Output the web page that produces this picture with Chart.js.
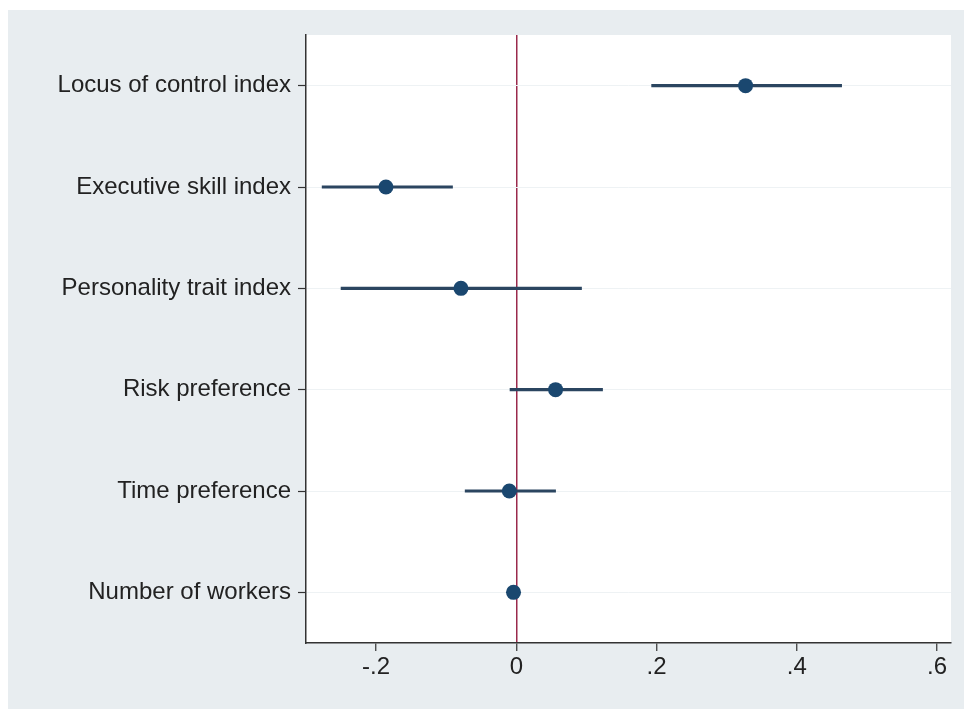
<!DOCTYPE html>
<html>
<head>
<meta charset="utf-8">
<script src="https://cdn.jsdelivr.net/npm/chart.js@4.4.1/dist/chart.umd.min.js"></script>
<style>
  html, body { margin: 0; padding: 0; background: #ffffff; }
  #wrap {
    position: absolute; left: 8px; top: 10px;
    width: 956px; height: 699px;
    background: #e8edf0;
  }
</style>
</head>
<body>
<div id="wrap"><canvas id="coefChart"></canvas></div>
<script>
// coefficient estimates with 95% intervals
const categories = [
  'Locus of control index',
  'Executive skill index',
  'Personality trait index',
  'Risk preference',
  'Time preference',
  'Number of workers'
];
const estimates = [0.327, -0.186, -0.079, 0.056, -0.010, -0.004];
const ciLow  = [0.193, -0.277, -0.250, -0.009, -0.073, -0.009];
const ciHigh = [0.464, -0.091, 0.093, 0.123, 0.056, 0.001];
const xTickValues = [-0.2, 0, 0.2, 0.4, 0.6];
const xTickLabels = ['-.2', '0', '.2', '.4', '.6'];

const navy = '#1a476f';
const zeroLine = '#9a2a4c';
const axisColor = '#333333';

Chart.defaults.font.family = "'Liberation Sans', Arial, sans-serif";
Chart.defaults.font.size = 24;
Chart.defaults.color = '#222222';

document.addEventListener("DOMContentLoaded", function () {
    const ctx = document.getElementById('coefChart');

    // white plot region behind the marks
    const plotBg = {
        id: 'plotBg',
        beforeDraw(chart) {
            const a = chart.chartArea;
            const c = chart.ctx;
            c.save();
            c.fillStyle = '#ffffff';
            c.fillRect(a.left, a.top, a.right - a.left, a.bottom - a.top);
            c.restore();
        }
    };

    new Chart(ctx, {
        type: 'bar',
        data: {
            labels: categories,
            datasets: [{
                type: 'bar',
                data: categories.map((c, i) => [ciLow[i], ciHigh[i]]),
                backgroundColor: '#2b4560',
                barThickness: 2.5,
                borderWidth: 0,
                order: 2
            }, {
                type: 'scatter',
                data: categories.map((c, i) => ({ x: estimates[i], y: c })),
                pointRadius: 7.5,
                pointBackgroundColor: navy,
                pointBorderColor: navy,
                pointBorderWidth: 0,
                order: 1
            }]
        },
        options: {
            indexAxis: 'y',
            responsive: true,
            maintainAspectRatio: false,
            animation: false,
            layout: { padding: { top: 25, right: 13, left: 0, bottom: 0 } },
            plugins: {
                legend: { display: false },
                tooltip: { enabled: false }
            },
            scales: {
                x: {
                    type: 'linear',
                    min: -0.3,
                    max: 0.62,
                    afterBuildTicks(scale) {
                        scale.ticks = xTickValues.map(v => ({ value: v }));
                    },
                    afterFit(scale) { scale.height = 66; },
                    ticks: {
                        padding: 2,
                        callback: (v) => xTickLabels[xTickValues.indexOf(v)]
                    },
                    grid: {
                        color: (c) => (c.tick && c.tick.value === 0) ? zeroLine : 'rgba(0,0,0,0)',
                        lineWidth: 1.5,
                        tickColor: axisColor,
                        tickLength: 8,
                        tickWidth: 1.2
                    },
                    border: { color: axisColor, width: 1.5 }
                },
                y: {
                    type: 'category',
                    offset: true,
                    afterFit(scale) { scale.width = 298; },
                    ticks: { padding: 7 },
                    grid: {
                        offset: false,
                        color: '#eef2f4',
                        lineWidth: 1,
                        tickColor: axisColor,
                        tickLength: 8,
                        tickWidth: 1.2
                    },
                    border: { color: axisColor, width: 1.5 }
                }
            }
        },
        plugins: [plotBg]
    });
});
</script>
</body>
</html>
